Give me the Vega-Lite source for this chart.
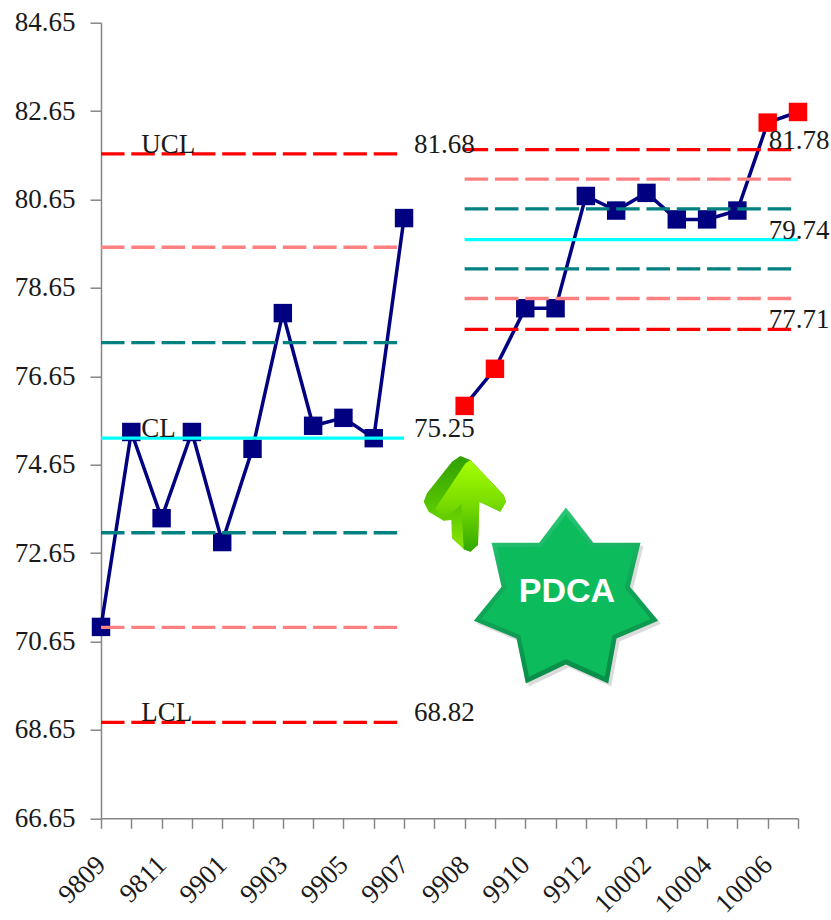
{
"$schema":"https://vega.github.io/schema/vega-lite/v6.json",
"width":697,"height":795.6,
"autosize":"none",
"padding":{"left":101,"top":22.7,"right":33,"bottom":101.7},
"background":"white",
"datasets":{
"points":[
{"period":"9809","value":70.98,"phase":"before","status":"in control"},
{"period":"9810","value":75.39,"phase":"before","status":"in control"},
{"period":"9811","value":73.44,"phase":"before","status":"in control"},
{"period":"9812","value":75.39,"phase":"before","status":"in control"},
{"period":"9901","value":72.90,"phase":"before","status":"in control"},
{"period":"9902","value":75.01,"phase":"before","status":"in control"},
{"period":"9903","value":78.08,"phase":"before","status":"in control"},
{"period":"9904","value":75.53,"phase":"before","status":"in control"},
{"period":"9905","value":75.71,"phase":"before","status":"in control"},
{"period":"9906","value":75.25,"phase":"before","status":"in control"},
{"period":"9907","value":80.23,"phase":"before","status":"in control"},
{"period":"9908","value":75.98,"phase":"after","status":"out of control"},
{"period":"9909","value":76.82,"phase":"after","status":"out of control"},
{"period":"9910","value":78.19,"phase":"after","status":"in control"},
{"period":"9911","value":78.19,"phase":"after","status":"in control"},
{"period":"9912","value":80.73,"phase":"after","status":"in control"},
{"period":"10001","value":80.40,"phase":"after","status":"in control"},
{"period":"10002","value":80.80,"phase":"after","status":"in control"},
{"period":"10003","value":80.20,"phase":"after","status":"in control"},
{"period":"10004","value":80.20,"phase":"after","status":"in control"},
{"period":"10005","value":80.40,"phase":"after","status":"in control"},
{"period":"10006","value":82.39,"phase":"after","status":"out of control"},
{"period":"10007","value":82.63,"phase":"after","status":"out of control"}
],
"limits":[
{"period":"9809","value":81.68,"limit":"UCL","phase":"before"},{"period":"9907","value":81.68,"limit":"UCL","phase":"before"},
{"period":"9809","value":79.57,"limit":"+2s","phase":"before"},{"period":"9907","value":79.57,"limit":"+2s","phase":"before"},
{"period":"9809","value":77.41,"limit":"+1s","phase":"before"},{"period":"9907","value":77.41,"limit":"+1s","phase":"before"},
{"period":"9809","value":75.25,"limit":"CL","phase":"before"},{"period":"9907","value":75.25,"limit":"CL","phase":"before"},
{"period":"9809","value":73.11,"limit":"-1s","phase":"before"},{"period":"9907","value":73.11,"limit":"-1s","phase":"before"},
{"period":"9809","value":70.97,"limit":"-2s","phase":"before"},{"period":"9907","value":70.97,"limit":"-2s","phase":"before"},
{"period":"9809","value":68.82,"limit":"LCL","phase":"before"},{"period":"9907","value":68.82,"limit":"LCL","phase":"before"},
{"period":"9908","value":81.78,"limit":"UCL","phase":"after"},{"period":"10007","value":81.78,"limit":"UCL","phase":"after"},
{"period":"9908","value":81.11,"limit":"+2s","phase":"after"},{"period":"10007","value":81.11,"limit":"+2s","phase":"after"},
{"period":"9908","value":80.44,"limit":"+1s","phase":"after"},{"period":"10007","value":80.44,"limit":"+1s","phase":"after"},
{"period":"9908","value":79.74,"limit":"CL","phase":"after"},{"period":"10007","value":79.74,"limit":"CL","phase":"after"},
{"period":"9908","value":79.08,"limit":"-1s","phase":"after"},{"period":"10007","value":79.08,"limit":"-1s","phase":"after"},
{"period":"9908","value":78.41,"limit":"-2s","phase":"after"},{"period":"10007","value":78.41,"limit":"-2s","phase":"after"},
{"period":"9908","value":77.71,"limit":"LCL","phase":"after"},{"period":"10007","value":77.71,"limit":"LCL","phase":"after"}
],
"names":[
{"period":"9810","value":81.68,"label":"UCL"},
{"period":"9810","value":75.25,"label":"CL"},
{"period":"9810","value":68.82,"label":"LCL"},
{"period":"9907","value":81.68,"label":"81.68"},
{"period":"9907","value":75.25,"label":"75.25"},
{"period":"9907","value":68.82,"label":"68.82"}
],
"rightNames":[
{"period":"10006","value":81.78,"label":"81.78"},
{"period":"10006","value":79.74,"label":"79.74"},
{"period":"10006","value":77.71,"label":"77.71"}
],
"arrow":[{"period":"9908","value":73.76}],
"star":[{"period":"9912","value":71.66}],
"pdca":[{"period":"9912","value":71.78,"label":"PDCA"}]
},
"encoding":{
"x":{"field":"period","type":"ordinal",
"scale":{"type":"point","padding":0,"domain":["9809","9810","9811","9812","9901","9902","9903","9904","9905","9906","9907"," ","9908","9909","9910","9911","9912","10001","10002","10003","10004","10005","10006","10007"]},
"axis":{"title":null,"grid":false,"domainColor":"#868686","domainWidth":1.5,"tickColor":"#868686","tickWidth":1.5,"tickSize":10,
"labelFont":"Liberation Serif","labelFontSize":27,"labelColor":"#1a1a1a","labelAngle":-45,"labelAlign":"right","labelBaseline":"middle","labelPadding":32,"labelOverlap":false,"labelBound":false,"labelFlush":false,
"labelExpr":"indexof(['9809','9811','9901','9903','9905','9907','9908','9910','9912','10002','10004','10006'], datum.value) >= 0 ? datum.value : ''"}},
"y":{"field":"value","type":"quantitative",
"scale":{"domain":[66.65,84.65],"nice":false,"zero":false},
"axis":{"title":null,"grid":false,"values":[66.65,68.65,70.65,72.65,74.65,76.65,78.65,80.65,82.65,84.65],"format":".2f","domainColor":"#868686","domainWidth":1.5,"tickColor":"#868686","tickWidth":1.5,"tickSize":11,
"labelFont":"Liberation Serif","labelFontSize":27,"labelColor":"#1a1a1a","labelPadding":15,"labelOverlap":false}}
},
"layer":[
{"data":{"name":"points"},"mark":{"type":"line","color":"#000080","strokeWidth":3.5},"encoding":{"detail":{"field":"phase"}}},
{"data":{"name":"points"},"mark":{"type":"point","shape":"square","filled":true,"opacity":1,"size":340,"strokeWidth":0},
"encoding":{"color":{"field":"status","type":"nominal","legend":null,"scale":{"domain":["in control","out of control"],"range":["#000080","#ff0000"]}}}},
{"data":{"name":"limits"},"mark":{"type":"line","strokeWidth":3.3},
"encoding":{"detail":{"field":"phase"},
"color":{"field":"limit","type":"nominal","legend":null,"scale":{"domain":["UCL","+2s","+1s","CL","-1s","-2s","LCL"],"range":["#ff0000","#ff8080","#008080","#00ffff","#008080","#ff8080","#ff0000"]}},
"strokeDash":{"field":"limit","type":"nominal","legend":null,"scale":{"domain":["UCL","+2s","+1s","CL","-1s","-2s","LCL"],"range":[[23.5,6.8],[23.5,6.8],[23.5,6.8],[1,0],[23.5,6.8],[23.5,6.8],[23.5,6.8]]}}}},
{"data":{"name":"names"},"mark":{"type":"text","font":"Liberation Serif","fontSize":27,"color":"#1a1a1a","align":"left","baseline":"middle","dx":10,"dy":-9},"encoding":{"text":{"field":"label"}}},
{"data":{"name":"rightNames"},"mark":{"type":"text","font":"Liberation Serif","fontSize":27,"color":"#1a1a1a","align":"left","baseline":"middle","dx":1,"dy":-9},"encoding":{"text":{"field":"label"}}},
{"data":{"name":"arrow"},"mark":{"type":"point","filled":true,"opacity":1,"strokeWidth":0,"size":9088,
"fill":{"gradient":"linear","x1":0,"y1":0,"x2":0,"y2":1,"stops":[{"offset":0,"color":"#2f9f00"},{"offset":0.5,"color":"#55c400"},{"offset":1,"color":"#8fe800"}]},
"shape":"M-0.09,-1.007L0.119,-0.923L0.818,-0.189L0.867,-0.049L0.748,0.161L0.308,-0.049L0.28,0.86L0.119,1L-0.02,0.951L-0.266,0.72L-0.28,0.336L-0.44,0.35L-0.755,0.161L-0.86,-0.049L-0.79,-0.224L-0.266,-0.888Z"}},
{"data":{"name":"arrow"},"mark":{"type":"point","filled":true,"opacity":1,"strokeWidth":0,"size":9088,
"fill":{"gradient":"linear","x1":0,"y1":0,"x2":0,"y2":1,"stops":[{"offset":0,"color":"#a6ff00"},{"offset":0.45,"color":"#7cde00"},{"offset":1,"color":"#2fa800"}]},
"shape":"M0.014,-0.853L0.119,-0.923L0.818,-0.189L0.867,-0.049L0.748,0.161L0.308,-0.049L0.28,0.86L0.119,1L-0.02,0.951L-0.07,0L-0.44,0.35L-0.615,0.091Z"}},
{"data":{"name":"star"},"mark":{"type":"point","filled":true,"opacity":0.3,"strokeWidth":0,"size":34844,"xOffset":-17,"yOffset":3,"fill":"#888888",
"shape":"M0,-0.957L0.293,-0.579L0.8,-0.579L0.686,-0.107L0.989,0.257L0.543,0.446L0.454,0.929L0,0.725L-0.429,0.929L-0.529,0.446L-0.986,0.257L-0.689,-0.107L-0.796,-0.579L-0.286,-0.579Z"}},
{"data":{"name":"star"},"mark":{"type":"point","filled":true,"opacity":1,"strokeWidth":0,"size":34844,"xOffset":-20,
"fill":{"gradient":"linear","x1":0,"y1":0,"x2":0.2,"y2":1,"stops":[{"offset":0,"color":"#2ccf7c"},{"offset":0.5,"color":"#12aa5a"},{"offset":1,"color":"#0a8f4a"}]},
"shape":"M0,-0.957L0.293,-0.579L0.8,-0.579L0.686,-0.107L0.989,0.257L0.543,0.446L0.454,0.929L0,0.725L-0.429,0.929L-0.529,0.446L-0.986,0.257L-0.689,-0.107L-0.796,-0.579L-0.286,-0.579Z"}},
{"data":{"name":"star"},"mark":{"type":"point","filled":true,"opacity":1,"strokeWidth":0,"size":29500,"xOffset":-20,"fill":"#0bbb5c",
"shape":"M0,-0.957L0.293,-0.579L0.8,-0.579L0.686,-0.107L0.989,0.257L0.543,0.446L0.454,0.929L0,0.725L-0.429,0.929L-0.529,0.446L-0.986,0.257L-0.689,-0.107L-0.796,-0.579L-0.286,-0.579Z"}},
{"data":{"name":"pdca"},"mark":{"type":"text","font":"Liberation Sans","fontWeight":"bold","fontSize":34,"color":"white","align":"center","baseline":"middle","dx":-19},"encoding":{"text":{"field":"label"}}}
],
"resolve":{"scale":{"color":"independent"}},
"config":{"view":{"stroke":null}}
}
